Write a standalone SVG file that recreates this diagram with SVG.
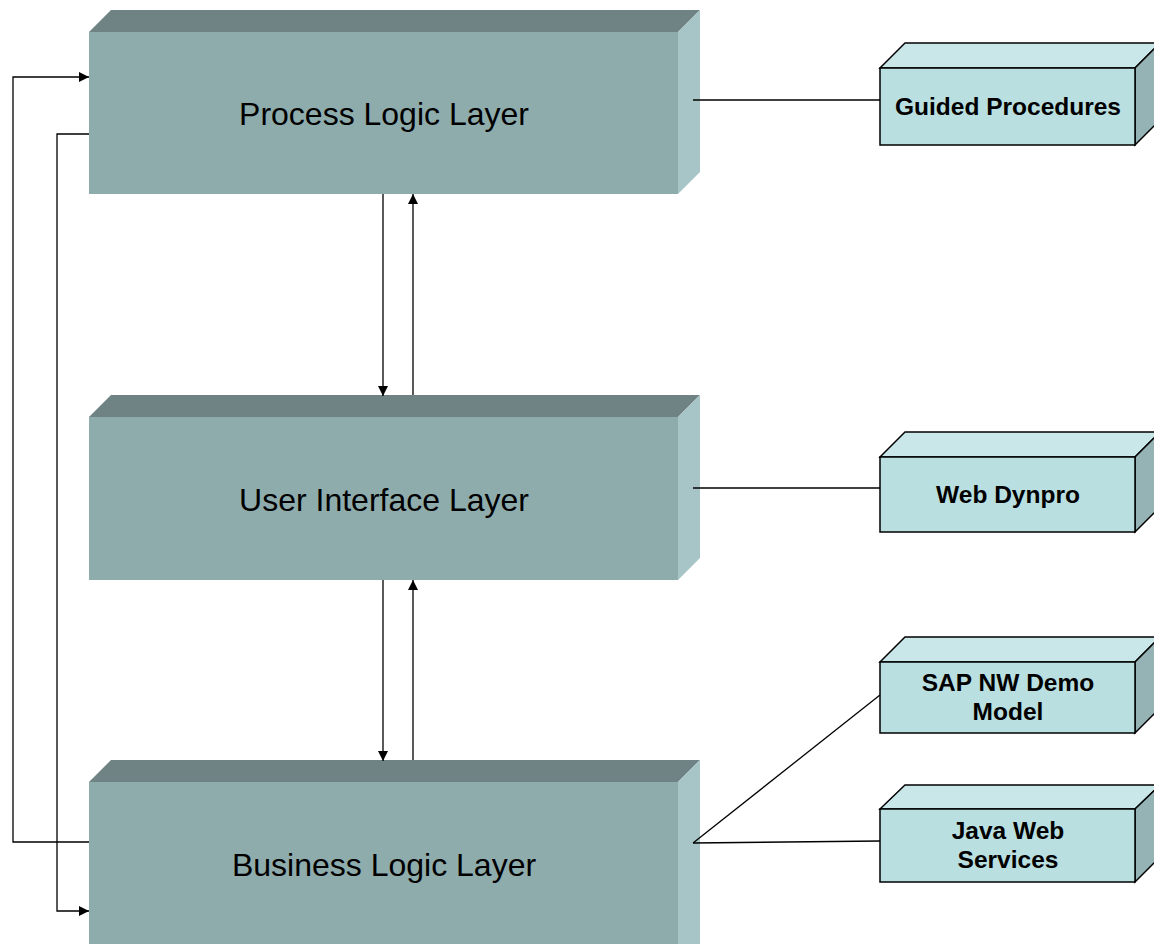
<svg xmlns="http://www.w3.org/2000/svg" width="1154" height="944" viewBox="0 0 1154 944">
<style>
.front{fill:#8FACAD}
.top{fill:#6F8384}
.side{fill:#A7C5C7}
.sfront{fill:#B9DFE1;stroke:#000;stroke-width:1.5}
.stop{fill:#C9E7E9;stroke:#000;stroke-width:1.5}
.sside{fill:#95B2B4;stroke:#000;stroke-width:1.5}
.big{font-family:"Liberation Sans",Arial,sans-serif;font-size:32px;fill:#000;text-anchor:middle}
.small{font-family:"Liberation Sans",Arial,sans-serif;font-size:24.5px;font-weight:bold;fill:#000;text-anchor:middle}
.conn{stroke:#000;stroke-width:1.3;fill:none}
</style>
<defs>
<marker id="ah" viewBox="0 0 10 10" refX="10" refY="5" markerWidth="11" markerHeight="10" markerUnits="userSpaceOnUse" orient="auto">
<path d="M0,0 L10,5 L0,10 z" fill="#000"/>
</marker>
</defs>
<rect width="1154" height="944" fill="#fff"/>
<g id="process">
<polygon class="top" points="89,32 111,10 700,10 678,32"/>
<polygon class="side" points="678,32 700,10 700,172 678,194"/>
<rect class="front" x="89" y="32" width="589" height="162"/>
<text class="big" x="384" y="125">Process Logic Layer</text>
</g>
<g id="ui">
<polygon class="top" points="89,417 111,395 700,395 678,417"/>
<polygon class="side" points="678,417 700,395 700,558 678,580"/>
<rect class="front" x="89" y="417" width="589" height="163"/>
<text class="big" x="384" y="511">User Interface Layer</text>
</g>
<g id="business">
<polygon class="top" points="89,782 111,760 700,760 678,782"/>
<polygon class="side" points="678,782 700,760 700,944 678,966"/>
<rect class="front" x="89" y="782" width="589" height="180"/>
<text class="big" x="384" y="876">Business Logic Layer</text>
</g>
<g id="gp">
<polygon class="stop" points="880,68 905,43 1160,43 1135,68"/>
<polygon class="sside" points="1135,68 1160,43 1160,120 1135,145"/>
<rect class="sfront" x="880" y="68" width="255" height="77"/>
<text class="small" x="1008" y="115">Guided Procedures</text>
</g>
<g id="wd">
<polygon class="stop" points="880,457 905,432 1160,432 1135,457"/>
<polygon class="sside" points="1135,457 1160,432 1160,507 1135,532"/>
<rect class="sfront" x="880" y="457" width="255" height="75"/>
<text class="small" x="1008" y="503">Web Dynpro</text>
</g>
<g id="sap">
<polygon class="stop" points="880,662 905,637 1160,637 1135,662"/>
<polygon class="sside" points="1135,662 1160,637 1160,708 1135,733"/>
<rect class="sfront" x="880" y="662" width="255" height="71"/>
<text class="small" x="1008" y="691">SAP NW Demo</text>
<text class="small" x="1008" y="720">Model</text>
</g>
<g id="jws">
<polygon class="stop" points="880,809 905,785 1160,785 1135,809"/>
<polygon class="sside" points="1135,809 1160,785 1160,857 1135,882"/>
<rect class="sfront" x="880" y="809" width="255" height="73"/>
<text class="small" x="1008" y="839">Java Web</text>
<text class="small" x="1008" y="868">Services</text>
</g>
<g id="connectors">
<line class="conn" x1="693" y1="100" x2="880" y2="100"/>
<line class="conn" x1="693" y1="488" x2="880" y2="488"/>
<line class="conn" x1="693" y1="843" x2="880" y2="695"/>
<line class="conn" x1="693" y1="843" x2="880" y2="841"/>
<line class="conn" x1="383" y1="194" x2="383" y2="396" marker-end="url(#ah)"/>
<line class="conn" x1="413" y1="395" x2="413" y2="194" marker-end="url(#ah)"/>
<line class="conn" x1="383" y1="580" x2="383" y2="761" marker-end="url(#ah)"/>
<line class="conn" x1="413" y1="760" x2="413" y2="580" marker-end="url(#ah)"/>
<polyline class="conn" points="89,842 13,842 13,77 89,77" marker-end="url(#ah)"/>
<polyline class="conn" points="89,134 57,134 57,911 89,911" marker-end="url(#ah)"/>
</g>
</svg>
